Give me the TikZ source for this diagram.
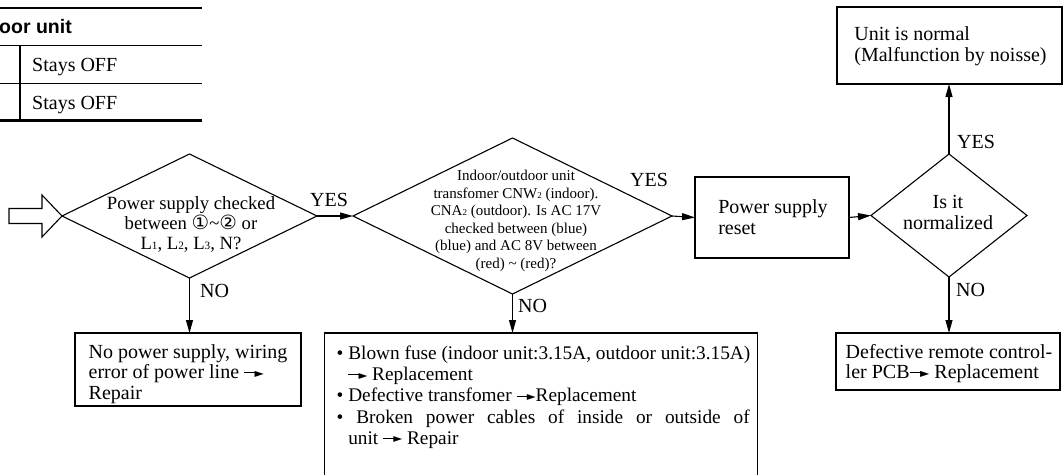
\documentclass[tikz,border=0pt]{standalone}
\usepackage{fontspec}
\setmainfont{Liberation Serif}
\newfontfamily\dejavu{DejaVu Sans}
\newfontfamily\helv{Liberation Sans}
\usetikzlibrary{shapes.geometric,arrows.meta}
\newcommand\sdig[1]{\scalebox{0.6}{#1}}
\newcommand\ra{\mbox{\rule[0.27em]{0.65em}{0.06em}\kern-0.12em\raisebox{0.12em}{\scalebox{0.6}[0.4]{\dejavu ▶}}}}
\newcommand\cnum[1]{{\dejavu\scalebox{1.05}{#1}}}
\newcommand\hang{\hspace*{0.6em}}
\tikzset{
  dia/.style={diamond, draw, line width=1.1pt, inner sep=0pt, outer sep=0pt},
  box/.style={rectangle, draw, line width=1.1pt, inner sep=0pt, outer sep=0pt},
  txt/.style={align=left, inner sep=0pt, font=\fontsize{20}{20.5}\selectfont},
  lbl/.style={inner sep=0pt, anchor=base west, font=\fontsize{20}{20}\selectfont},
  conn/.style={line width=1.1pt, -{Triangle[length=13pt,width=7pt]}},
  thick rule/.style={line width=2.4pt},
  thin rule/.style={line width=1.3pt},
}
\begin{document}
\begin{tikzpicture}[x=1pt,y=-1pt]
\useasboundingbox (0,0) rectangle (1063,474);
\clip (0,0) rectangle (1063,474);
% table
\draw[thick rule] (0,8) -- (202,8);
\draw[thin rule] (0,45.5) -- (202,45.5);
\draw[thin rule] (0,83.5) -- (202,83.5);
\draw[thick rule] (0,120.5) -- (202,120.5);
\draw[line width=1.1pt] (20,45.5) -- (20,120.5);
\node[inner sep=0pt, anchor=base west, font=\helv\bfseries\fontsize{19.5}{19.5}\selectfont] (th) at (-1,33.3) {oor unit};
\node[lbl] (s1) at (32,71.7) {Stays OFF};
\node[lbl] (s2) at (32,109) {Stays OFF};
% diamonds
\node[dia, minimum width=255pt, minimum height=124pt] (d1) at (189.5,216) {};
\node[dia, minimum width=319pt, minimum height=156pt] (d2) at (512.5,216) {};
\node[dia, minimum width=156pt, minimum height=123pt] (d3) at (949,215.5) {};
\node[align=center, inner sep=0pt, font=\fontsize{18.7}{20}\selectfont] (d1t) at (191,224)
  {Power supply checked\\between \cnum{①}\textasciitilde\cnum{②} or\\L\sdig{1}, L\sdig{2}, L\sdig{3}, N?};
\node[align=center, inner sep=0pt, font=\fontsize{15}{17.5}\selectfont] (d2t) at (516,221)
  {Indoor/outdoor unit\\transfomer CNW\sdig{2} (indoor).\\CNA\sdig{2} (outdoor). Is AC 17V\\checked between (blue)\\(blue) and AC 8V between\\(red) \textasciitilde\ (red)?};
\node[align=center, inner sep=0pt, font=\fontsize{20}{21}\selectfont] (d3t) at (948,212) {Is it\\normalized};
% input arrow
\draw[line width=1.1pt, line join=miter] (9,208.5) -- (42,208.5) -- (42,195) -- (d1.west) -- (42,237) -- (42,223.5) -- (9,223.5) -- cycle;
% boxes
\node[box, minimum width=154pt, minimum height=81pt] (reset) at (772,217.5) {};
\node[txt] (resett) at (773,217) {Power supply\\reset};
\node[box, minimum width=225pt, minimum height=77pt] (normal) at (949.5,45.5) {};
\node[txt] (normalt) at (950.5,46) {Unit is normal\\(Malfunction by noisse)};
\node[box, minimum width=224pt, minimum height=57pt] (defect) at (948,361.5) {};
\node[txt] (defectt) at (949,363.6) {Defective remote control-\\ler PCB\ra\ Replacement};
\node[box, minimum width=226pt, minimum height=73pt] (nopow) at (188,369.5) {};
\node[txt] (nopowt) at (188,374) {No power supply, wiring\\error of power line \ra\\Repair};
\node[box, minimum width=433pt, minimum height=170pt, anchor=north west] (big) at (324.5,333) {};
\node[inner sep=0pt, anchor=north west, align=left, font=\fontsize{19.3}{21.2}\selectfont] (bigt) at (336.5,345.7)
  {\textbullet\ Blown fuse (indoor unit:3.15A, outdoor unit:3.15A)\\
   \hang\ra\ Replacement\\
   \textbullet\ Defective transfomer \ra Replacement\\
   \makebox[413pt][s]{\textbullet\ Broken power cables of inside or outside of}\\
   \hang unit \ra\ Repair};
% connectors
\draw[conn] (d1.east) -- (d2.west);
\draw[conn] (d2.east) -- (reset.west);
\draw[conn] (reset.east) -- (d3.west);
\draw[conn] (d3.north) -- (d3.north |- normal.south);
\draw[conn] (d3.south) -- (d3.south |- defect.north);
\draw[conn] (d1.south) -- (d1.south |- nopow.north);
\draw[conn] (d2.south) -- (d2.south |- big.north);
% labels
\node[lbl] (y1) at (310,206) {YES};
\node[lbl] (y2) at (630,186) {YES};
\node[lbl] (y3) at (957,148.3) {YES};
\node[lbl] (n1) at (200,297.7) {NO};
\node[lbl] (n2) at (518,312.7) {NO};
\node[lbl] (n3) at (956,296) {NO};
\end{tikzpicture}
\end{document}
